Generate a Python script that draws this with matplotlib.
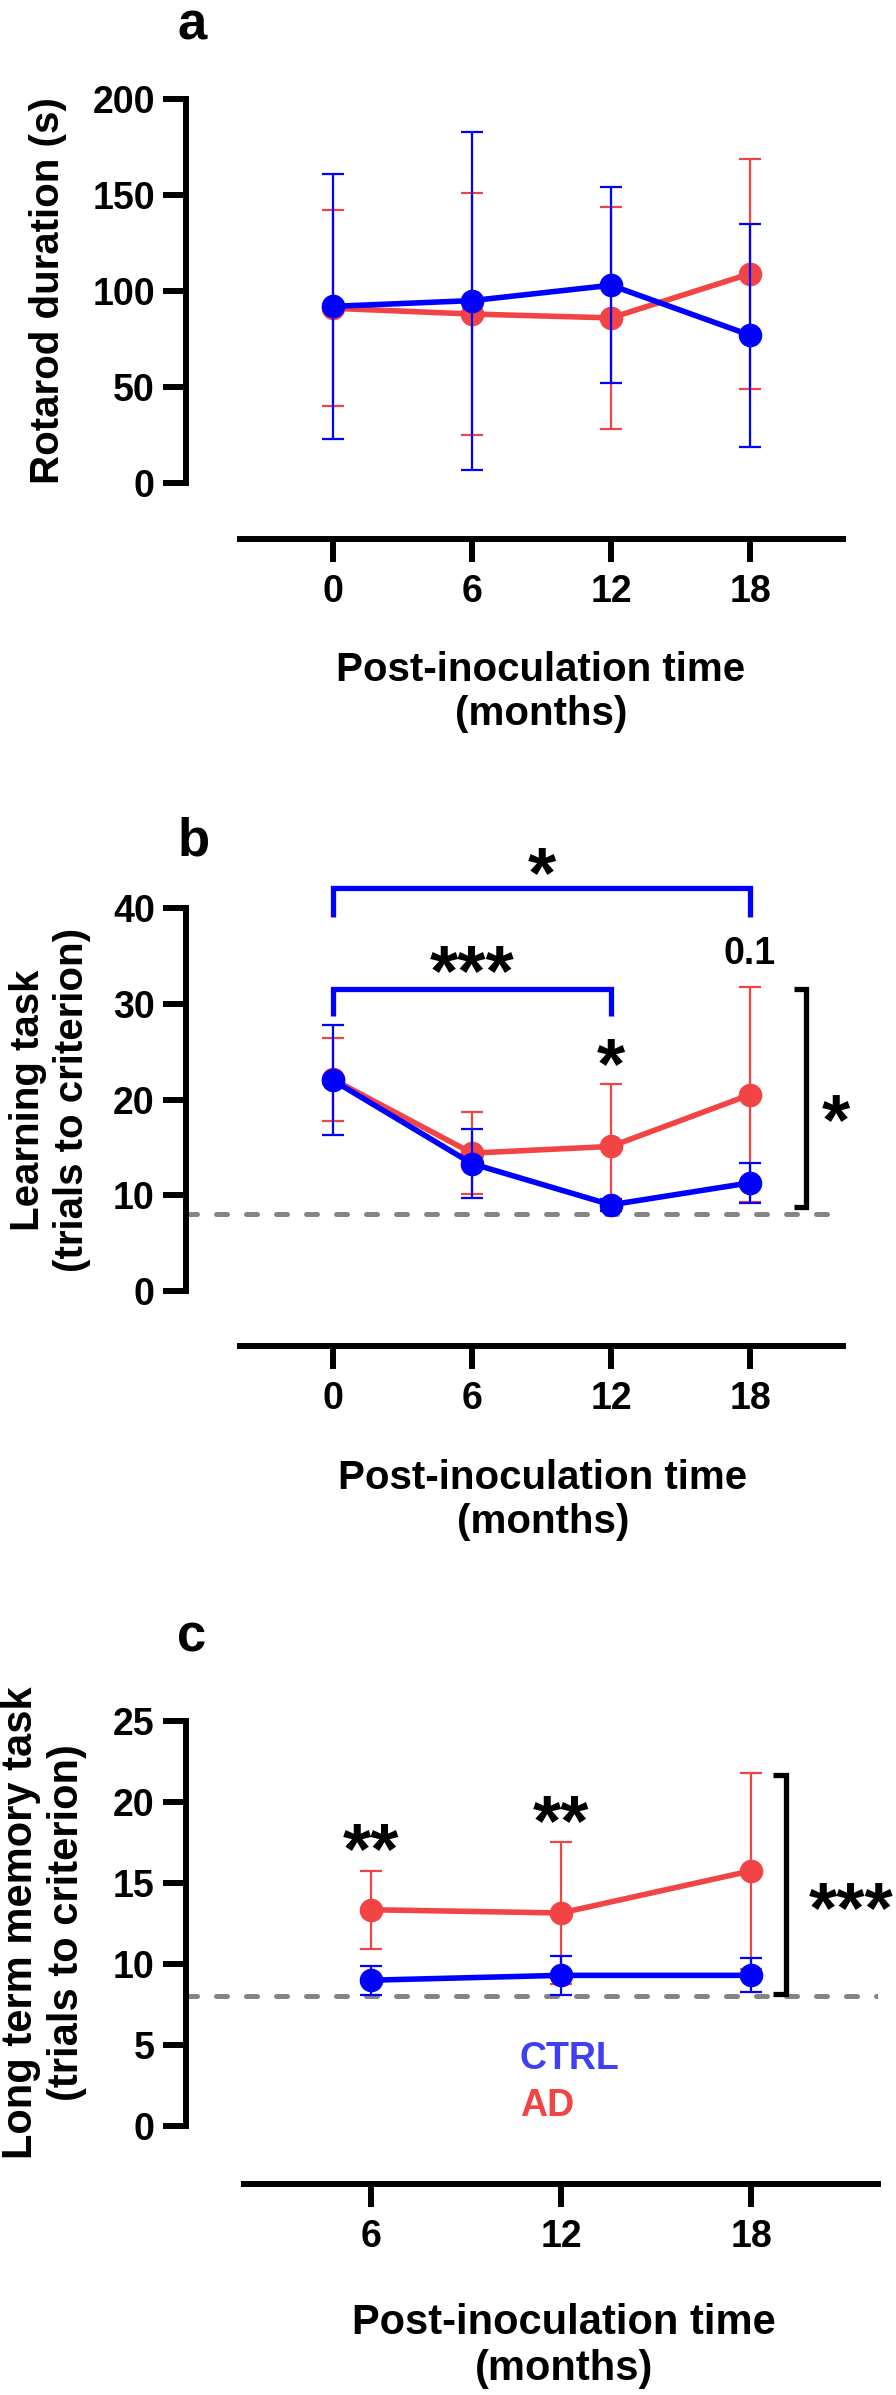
import numpy as np
import matplotlib.pyplot as plt

plt.rcParams['font.family'] = ['Liberation Sans', 'DejaVu Sans']
plt.rcParams['font.weight'] = 'bold'

W, H = 896, 2395
red = '#F24444'
blue = '#0000FF'
grey = '#858585'

# a: rotarod
months_ab = [0, 6, 12, 18]
ctrl_a = [92, 95, 103, 77]
ctrl_a_sd = [69, 88, 51, 58]
ad_a = [91, 88, 86, 109]
ad_a_sd = [51, 63, 58, 60]

# b: learning task
ctrl_b = [22.0, 13.3, 9.0, 11.3]
ctrl_b_sd = [5.75, 3.6, 0.6, 2.1]
ad_b = [22.1, 14.4, 15.1, 20.5]
ad_b_sd = [4.3, 4.3, 6.55, 11.2]

# c: long term memory task
months_c = [6, 12, 18]
ctrl_c = [9.0, 9.3, 9.3]
ctrl_c_sd = [0.9, 1.2, 1.05]
ad_c = [13.35, 13.15, 15.75]
ad_c_sd = [2.4, 4.4, 6.05]

criterion = 8


def px_axes(fig, left, right, top, bottom):
    return fig.add_axes([left / W, 1 - bottom / H, (right - left) / W, (bottom - top) / H])


def style(ax, xticks, xbounds, yticks, offset):
    for s in ['top', 'right']:
        ax.spines[s].set_visible(False)
    for s in ['left', 'bottom']:
        ax.spines[s].set_linewidth(4.3)
    ax.spines['bottom'].set_position(('outward', offset))
    ax.spines['bottom'].set_bounds(*xbounds)
    ax.spines['left'].set_bounds(yticks[0], yticks[-1])
    ax.set_xticks(xticks)
    ax.set_yticks(yticks)
    ax.tick_params(width=4.3, length=16.5, labelsize=27)
    ax.tick_params(axis='x', pad=9)
    ax.tick_params(axis='y', pad=6)
    ax.patch.set_visible(False)


def series(ax, x, y, sd, color, z):
    ax.errorbar(x, y, yerr=sd, color=color, lw=4, marker='o', ms=16,
                capsize=8, elinewidth=1.6, capthick=1.6, clip_on=False, zorder=z)


def stars(ax, x, y, s, size=52):
    ax.annotate(s, (x, y), xytext=(0, -0.32 * size), textcoords='offset points',
                ha='center', va='center', fontsize=size, fontweight='bold',
                annotation_clip=False)


def bracket(ax, xs, ys, color):
    ax.plot(xs, ys, color=color, lw=3.8, clip_on=False, solid_joinstyle='miter',
            solid_capstyle='butt')


fig = plt.figure(figsize=(W / 100, H / 100), dpi=100)

# ---- a ----
pm = (750 - 333) / 18
ax = px_axes(fig, 186, 333 + 22 * pm, 99, 483)
ax.set_xlim(-(333 - 186) / pm, 22)
ax.set_ylim(0, 200)
style(ax, months_ab, (-4, 22), [0, 50, 100, 150, 200], 40.3)
series(ax, months_ab, ad_a, ad_a_sd, red, 3)
series(ax, months_ab, ctrl_a, ctrl_a_sd, blue, 4)

# ---- b ----
ax = px_axes(fig, 186, 333 + 22 * pm, 908, 1291)
ax.set_xlim(-(333 - 186) / pm, 22)
ax.set_ylim(0, 40)
style(ax, months_ab, (-4, 22), [0, 10, 20, 30, 40], 39.6)
ax.axhline(criterion, color=grey, lw=3.6, ls=(0, (2.2, 3.8)), dash_capstyle='round', zorder=1)
series(ax, months_ab, ad_b, ad_b_sd, red, 3)
series(ax, months_ab, ctrl_b, ctrl_b_sd, blue, 4)
bracket(ax, [0, 0, 18, 18], [39.06, 42.1, 42.1, 39.06], blue)
stars(ax, 9, 45.5, '*')
bracket(ax, [0, 0, 12, 12], [28.7, 31.5, 31.5, 28.7], blue)
stars(ax, 6, 35.3, '***')
ax.annotate('0.1', (18, 35.6), xytext=(0, -3), textcoords='offset points', ha='center',
            va='center', fontsize=27, fontweight='bold', annotation_clip=False)
stars(ax, 12, 25.6, '*')
bracket(ax, [19.9, 20.4, 20.4, 19.9], [31.5, 31.5, 8.8, 8.8], 'black')
stars(ax, 21.7, 19.7, '*')

# ---- c ----
pc = (751 - 371) / 12
ax = px_axes(fig, 186, 371 + 16 * pc, 1721, 2126)
ax.set_xlim(6 - (371 - 186) / pc, 22)
ax.set_ylim(0, 25)
style(ax, months_c, (2, 22), [0, 5, 10, 15, 20, 25], 41.8)
ax.axhline(criterion, color=grey, lw=3.6, ls=(0, (2.2, 3.8)), dash_capstyle='round', zorder=1)
series(ax, months_c, ad_c, ad_c_sd, red, 3)
series(ax, months_c, ctrl_c, ctrl_c_sd, blue, 4)
stars(ax, 6, 18.2, '**')
stars(ax, 12, 19.95, '**')
bracket(ax, [18.7, 19.1, 19.1, 18.7], [21.65, 21.65, 8.15, 8.15], 'black')
stars(ax, 21.15, 14.6, '***')
ax.text(10.7, 4.16, 'CTRL', color='#4040F2', fontsize=27, fontweight='bold', ha='left', va='center')
ax.text(10.7, 1.23, 'AD', color='#F24444', fontsize=27, fontweight='bold', ha='left', va='center')

# ---- labels ----
def ftext(x, y, s, **kw):
    fig.text(x / W, 1 - y / H, s, fontweight='bold', **kw)

ftext(192, 39, 'a', fontsize=38, ha='center', va='baseline')
ftext(194, 856, 'b', fontsize=38, ha='center', va='baseline')
ftext(192, 1651, 'c', fontsize=38, ha='center', va='baseline')

ftext(48, 291, 'Rotarod duration (s)', fontsize=29, rotation=90, ha='center', va='center')
ftext(50, 1100, 'Learning task\n(trials to criterion)', fontsize=29, rotation=90,
      ha='center', va='center', multialignment='center')
ftext(44, 1923, 'Long term memory task\n(trials to criterion)', fontsize=30, rotation=90,
      ha='center', va='center', multialignment='center')

ftext(541, 692, 'Post-inoculation time\n(months)', fontsize=29, ha='center', va='center',
      multialignment='center')
ftext(543, 1500, 'Post-inoculation time\n(months)', fontsize=29, ha='center', va='center',
      multialignment='center')
ftext(564, 2346, 'Post-inoculation time\n(months)', fontsize=30, ha='center', va='center',
      multialignment='center')

fig.savefig('out.png', dpi=100)
